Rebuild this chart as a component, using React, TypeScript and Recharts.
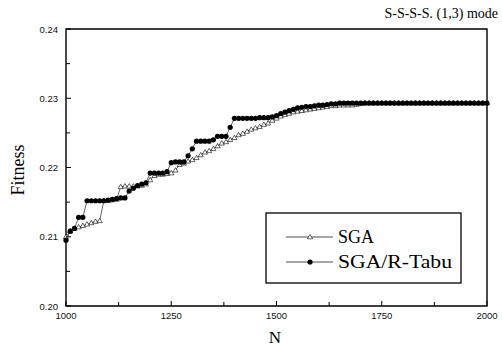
import { LineChart, Line, XAxis, YAxis, ReferenceArea, Customized } from 'recharts';

const generations = [
  1000, 1010, 1020, 1030, 1040, 1050, 1060, 1070, 1080, 1090,
  1100, 1110, 1120, 1130, 1140, 1150, 1160, 1170, 1180, 1190,
  1200, 1210, 1220, 1230, 1240, 1250, 1260, 1270, 1280, 1290,
  1300, 1310, 1320, 1330, 1340, 1350, 1360, 1370, 1380, 1390,
  1400, 1410, 1420, 1430, 1440, 1450, 1460, 1470, 1480, 1490,
  1500, 1510, 1520, 1530, 1540, 1550, 1560, 1570, 1580, 1590,
  1600, 1610, 1620, 1630, 1640, 1650, 1660, 1670, 1680, 1690,
  1700, 1710, 1720, 1730, 1740, 1750, 1760, 1770, 1780, 1790,
  1800, 1810, 1820, 1830, 1840, 1850, 1860, 1870, 1880, 1890,
  1900, 1910, 1920, 1930, 1940, 1950, 1960, 1970, 1980, 1990,
  2000,
];

const sga = [
  0.2100, 0.2108, 0.2112, 0.2114, 0.2116, 0.2118, 0.2120, 0.2122, 0.2123, 0.2152,
  0.2152, 0.2153, 0.2154, 0.2172, 0.2173, 0.2173, 0.2173, 0.2173, 0.2174, 0.2176,
  0.2182, 0.2188, 0.2190, 0.2190, 0.2191, 0.2192, 0.2196, 0.2204, 0.2206, 0.2209,
  0.2211, 0.2214, 0.2218, 0.2222, 0.2224, 0.2227, 0.2231, 0.2235, 0.2237, 0.2240,
  0.2243, 0.2247, 0.2249, 0.2252, 0.2255, 0.2257, 0.2259, 0.2262, 0.2264, 0.2268,
  0.2271, 0.2274, 0.2276, 0.2278, 0.2280, 0.2281, 0.2282, 0.2283, 0.2284, 0.2285,
  0.2286, 0.2287, 0.2288, 0.2289, 0.2289, 0.2290, 0.2290, 0.2290, 0.2290, 0.2291,
  0.2292, 0.2293, 0.2293, 0.2293, 0.2293, 0.2293, 0.2293, 0.2293, 0.2293, 0.2293,
  0.2293, 0.2293, 0.2293, 0.2293, 0.2293, 0.2293, 0.2293, 0.2293, 0.2293, 0.2293,
  0.2293, 0.2293, 0.2293, 0.2293, 0.2293, 0.2293, 0.2293, 0.2293, 0.2293, 0.2293,
  0.2293,
];

const sgaTabu = [
  0.2095, 0.2108, 0.2112, 0.2128, 0.2128, 0.2152, 0.2152, 0.2152, 0.2152, 0.2152,
  0.2153, 0.2154, 0.2155, 0.2156, 0.2156, 0.2166, 0.2170, 0.2174, 0.2176, 0.2178,
  0.2192, 0.2192, 0.2192, 0.2192, 0.2194, 0.2207, 0.2208, 0.2208, 0.2208, 0.2217,
  0.2227, 0.2238, 0.2238, 0.2238, 0.2238, 0.2240, 0.2245, 0.2245, 0.2245, 0.2258,
  0.2271, 0.2271, 0.2271, 0.2271, 0.2271, 0.2271, 0.2272, 0.2272, 0.2272, 0.2273,
  0.2275, 0.2278, 0.2280, 0.2282, 0.2284, 0.2286, 0.2287, 0.2288, 0.2288, 0.2289,
  0.2290, 0.2290, 0.2291, 0.2292, 0.2292, 0.2293, 0.2293, 0.2293, 0.2293, 0.2293,
  0.2293, 0.2293, 0.2293, 0.2293, 0.2293, 0.2293, 0.2293, 0.2293, 0.2293, 0.2293,
  0.2293, 0.2293, 0.2293, 0.2293, 0.2293, 0.2293, 0.2293, 0.2293, 0.2293, 0.2293,
  0.2293, 0.2293, 0.2293, 0.2293, 0.2293, 0.2293, 0.2293, 0.2293, 0.2293, 0.2293,
  0.2293,
];

const xTicks = [1000, 1125, 1250, 1375, 1500, 1625, 1750, 1875, 2000];
const xLabels = ['1000', '', '1250', '', '1500', '', '1750', '', '2000'];
const yTicks = [0.2, 0.205, 0.21, 0.215, 0.22, 0.225, 0.23, 0.235, 0.24];
const yLabels = ['0.20', '', '0.21', '', '0.22', '', '0.23', '', '0.24'];

const data = generations.map((n, i) => ({ n, sga: sga[i], tabu: sgaTabu[i] }));

// plot box edges (chart is pinned at the page origin)
const PLOT_LEFT = 66;
const PLOT_BOTTOM = 306;
const serif = '"Liberation Serif", "DejaVu Serif", serif';
const sans = '"Liberation Sans", Arial, sans-serif';

const XTick = (props: any) => {
  const i = xTicks.indexOf(props.payload.value);
  const label = xLabels[i] || '';
  const len = label ? 5 : 4;
  return (
    <g>
      <line x1={props.x} x2={props.x} y1={PLOT_BOTTOM} y2={PLOT_BOTTOM - len} stroke="#000" strokeWidth={1} />
      {label && (
        <text x={props.x} y={PLOT_BOTTOM + 13} textAnchor="middle" fontSize={9.5} fontFamily={sans} fill="#111">
          {label}
        </text>
      )}
    </g>
  );
};

const YTick = (props: any) => {
  const i = yTicks.findIndex((t) => Math.abs(t - props.payload.value) < 1e-6);
  const label = yLabels[i] || '';
  const len = label ? 5 : 4;
  return (
    <g>
      <line x1={PLOT_LEFT} x2={PLOT_LEFT + len} y1={props.y} y2={props.y} stroke="#000" strokeWidth={1} />
      {label && (
        <text x={PLOT_LEFT - 8} y={props.y + 3.5} textAnchor="end" fontSize={9.5} fontFamily={sans} fill="#111">
          {label}
        </text>
      )}
    </g>
  );
};

const triangle = (cx: number, cy: number, key?: any) => (
  <polygon
    key={key}
    points={`${cx},${cy - 2.6} ${cx - 2.6},${cy + 1.8} ${cx + 2.6},${cy + 1.8}`}
    fill="#fff"
    stroke="#000"
    strokeWidth={0.6}
  />
);

const TriDot = (props: any) => triangle(props.cx, props.cy, props.key);
const BallDot = (props: any) => <circle key={props.key} cx={props.cx} cy={props.cy} r={2.6} fill="#000" />;

const Decorations = () => (
  <g>
    <text x={498} y={18} textAnchor="end" fontSize={14} fontFamily={serif} fill="#000">
      S-S-S-S. (1,3) mode
    </text>
    <text x={18} y={170} transform="rotate(-90 18 170)" textAnchor="middle" dominantBaseline="central" fontSize={18} fontFamily={serif} fill="#000">
      Fitness
    </text>
    <text x={275} y={343} textAnchor="middle" fontSize={17} fontFamily={serif} fill="#000">
      N
    </text>
    <g>
      <rect x={266} y={213} width={195} height={70} fill="#fff" stroke="#000" strokeWidth={1.3} />
      <line x1={286} x2={333} y1={237} y2={237} stroke="#000" strokeWidth={0.7} />
      {triangle(310, 237)}
      <text x={338} y={243} fontSize={18} fontFamily={serif} fill="#000">SGA</text>
      <line x1={286} x2={333} y1={262} y2={262} stroke="#000" strokeWidth={0.7} />
      <circle cx={310} cy={262} r={2.6} fill="#000" />
      <text x={338} y={268} fontSize={19} fontFamily={serif} fill="#000" textLength={114} lengthAdjust="spacingAndGlyphs">
        SGA/R-Tabu
      </text>
    </g>
  </g>
);

export default function App() {
  return (
    <div style={{ position: 'fixed', left: 0, top: 0, width: 502, height: 349, overflow: 'hidden', background: '#fff' }}>
      <LineChart width={502} height={349} data={data} margin={{ top: 29, right: 15, bottom: 13, left: 0 }}>
        <XAxis
          dataKey="n"
          type="number"
          domain={[1000, 2000]}
          ticks={xTicks}
          interval={0}
          tick={<XTick />}
          tickLine={false}
          tickSize={0}
          axisLine={false}
          height={30}
        />
        <YAxis
          type="number"
          domain={[0.2, 0.24]}
          ticks={yTicks}
          interval={0}
          tick={<YTick />}
          tickLine={false}
          tickSize={0}
          axisLine={false}
          width={66}
        />
        <ReferenceArea x1={1000} x2={2000} y1={0.2} y2={0.24} fill="none" stroke="#000" strokeWidth={1.4} ifOverflow="visible" />
        <Line dataKey="sga" stroke="#222" strokeWidth={0.7} dot={<TriDot />} isAnimationActive={false} />
        <Line dataKey="tabu" stroke="#222" strokeWidth={0.7} dot={<BallDot />} isAnimationActive={false} />
        <Customized component={Decorations} />
      </LineChart>
    </div>
  );
}
